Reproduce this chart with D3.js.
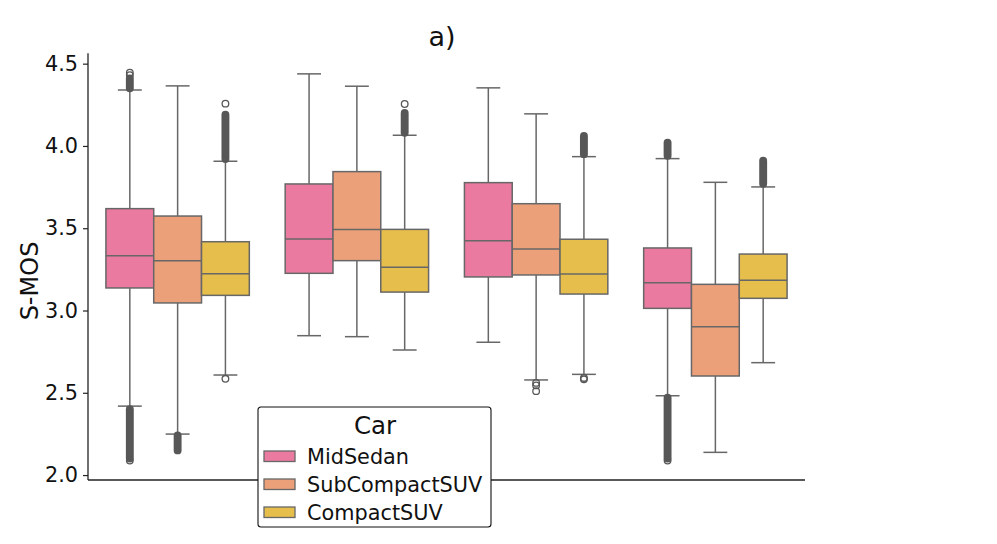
<!DOCTYPE html>
<html>
<head>
<meta charset="utf-8">
<script src="https://cdn.jsdelivr.net/npm/d3@7"></script>
<style>
  body { margin: 0; background: #fff; }
  svg { font-family: "DejaVu Sans", sans-serif; }
</style>
</head>
<body>
<svg id="chart" width="997" height="544"></svg>
<script>
'use strict'

// groups along x (no tick labels in the figure)
const groups = ["g1", "g2", "g3", "g4"]
const cars = ["MidSedan", "SubCompactSUV", "CompactSUV"]
const carColors = ["#eb7aa0", "#eba079", "#e6be4c"]
const yTicks = [2.0, 2.5, 3.0, 3.5, 4.0, 4.5]

// box stats per car, one value per group
const midSedanQ1 = [3.137, 3.226, 3.204, 3.013]
const midSedanMed = [3.333, 3.435, 3.424, 3.169]
const midSedanQ3 = [3.619, 3.769, 3.777, 3.380]
const midSedanLo = [2.419, 2.847, 2.807, 2.482]
const midSedanHi = [4.340, 4.438, 4.353, 3.923]

const subCompactQ1 = [3.046, 3.303, 3.216, 2.602]
const subCompactMed = [3.303, 3.493, 3.374, 2.902]
const subCompactQ3 = [3.574, 3.844, 3.649, 3.159]
const subCompactLo = [2.249, 2.841, 2.578, 2.138]
const subCompactHi = [4.365, 4.363, 4.195, 3.779]

const compactQ1 = [3.092, 3.112, 3.100, 3.074]
const compactMed = [3.224, 3.263, 3.222, 3.184]
const compactQ3 = [3.418, 3.493, 3.433, 3.343]
const compactLo = [2.608, 2.760, 2.612, 2.683]
const compactHi = [3.907, 4.065, 3.935, 3.751]

// dense outlier runs: [group, car, from, to]
const outlierRuns = [
  ["g1", "MidSedan", 2.10, 2.40],
  ["g1", "MidSedan", 4.35, 4.41],
  ["g1", "SubCompactSUV", 2.15, 2.24],
  ["g1", "CompactSUV", 3.92, 4.19],
  ["g2", "CompactSUV", 4.08, 4.20],
  ["g3", "CompactSUV", 3.95, 4.06],
  ["g4", "MidSedan", 2.10, 2.47],
  ["g4", "MidSedan", 3.94, 4.02],
  ["g4", "CompactSUV", 3.77, 3.91]
]
// single outliers: [group, car, value]
const outlierPoints = [
  ["g1", "MidSedan", 2.088], ["g1", "MidSedan", 4.43], ["g1", "MidSedan", 4.445],
  ["g1", "CompactSUV", 4.257], ["g1", "CompactSUV", 2.585],
  ["g2", "CompactSUV", 4.255],
  ["g3", "SubCompactSUV", 2.56], ["g3", "SubCompactSUV", 2.545], ["g3", "SubCompactSUV", 2.51],
  ["g3", "CompactSUV", 2.59], ["g3", "CompactSUV", 2.582],
  ["g4", "MidSedan", 2.088]
]

const stats = {
  MidSedan: [midSedanQ1, midSedanMed, midSedanQ3, midSedanLo, midSedanHi],
  SubCompactSUV: [subCompactQ1, subCompactMed, subCompactQ3, subCompactLo, subCompactHi],
  CompactSUV: [compactQ1, compactMed, compactQ3, compactLo, compactHi]
}
const boxes = []
cars.forEach(car => groups.forEach((g, i) => {
  let s = stats[car]
  boxes.push({group: g, car, q1: s[0][i], med: s[1][i], q3: s[2][i], lo: s[3][i], hi: s[4][i]})
}))

const svg = d3.select("#chart")
const plotLeft = 88, plotRight = 805, plotTop = 53.3, plotBottom = 480
const lineColor = "#676767", fliers = "#575757"

const y = d3.scaleLinear().domain([1.97, 4.563]).range([plotBottom, plotTop])
const x = d3.scaleBand().domain(groups).range([plotLeft, plotRight]).padding(0)
const xInner = d3.scaleBand().domain(cars)
  .range([x.bandwidth() * 0.1, x.bandwidth() * 0.9]).padding(0)
const color = d3.scaleOrdinal().domain(cars).range(carColors)
const cx = (g, c) => x(g) + xInner(c) + xInner.bandwidth() / 2
const bw = xInner.bandwidth()

// whiskers
let plot = svg.append("g")
plot.selectAll(".whisker").data(boxes).join("g").each(function(d){
  let g = d3.select(this), c = cx(d.group, d.car)
  g.append("line").attr("x1", c).attr("x2", c).attr("y1", y(d.q1)).attr("y2", y(d.lo))
  g.append("line").attr("x1", c).attr("x2", c).attr("y1", y(d.q3)).attr("y2", y(d.hi))
  g.append("line").attr("x1", c - bw / 4).attr("x2", c + bw / 4).attr("y1", y(d.lo)).attr("y2", y(d.lo))
  g.append("line").attr("x1", c - bw / 4).attr("x2", c + bw / 4).attr("y1", y(d.hi)).attr("y2", y(d.hi))
}).selectAll("line").attr("stroke", lineColor).attr("stroke-width", 1.5)

// boxes
plot.selectAll(".box").data(boxes).join("rect")
  .attr("x", d => x(d.group) + xInner(d.car))
  .attr("width", bw)
  .attr("y", d => y(d.q3))
  .attr("height", d => y(d.q1) - y(d.q3))
  .attr("fill", d => color(d.car))
  .attr("stroke", lineColor).attr("stroke-width", 1.5)

plot.selectAll(".median").data(boxes).join("line")
  .attr("x1", d => x(d.group) + xInner(d.car))
  .attr("x2", d => x(d.group) + xInner(d.car) + bw)
  .attr("y1", d => y(d.med)).attr("y2", d => y(d.med))
  .attr("stroke", lineColor).attr("stroke-width", 1.5)

// outliers: dense runs drawn as overlapping markers (capsule), singles as rings
const r = 3.3
plot.selectAll(".run").data(outlierRuns).join("line")
  .attr("x1", d => cx(d[0], d[1])).attr("x2", d => cx(d[0], d[1]))
  .attr("y1", d => y(d[2])).attr("y2", d => y(d[3]))
  .attr("stroke", fliers).attr("stroke-width", 2 * r + 1.3)
  .attr("stroke-linecap", "round")

plot.selectAll(".pt").data(outlierPoints).join("circle")
  .attr("cx", d => cx(d[0], d[1])).attr("cy", d => y(d[2]))
  .attr("r", r).attr("fill", "none")
  .attr("stroke", fliers).attr("stroke-width", 1.3)

// axes
let yAxis = svg.append("g").attr("transform", `translate(${plotLeft},0)`)
  .call(d3.axisLeft(y).tickValues(yTicks).tickFormat(d3.format(".1f")).tickSize(5).tickPadding(5))
yAxis.select(".domain").attr("d", `M0,${plotTop}V${plotBottom}`).attr("stroke", "#222").attr("stroke-width", 1.3)
yAxis.selectAll(".tick line").attr("stroke", "#222").attr("stroke-width", 1.2)
yAxis.selectAll("text").attr("font-size", 20.8).attr("fill", "#111")
  .attr("font-family", "DejaVu Sans")

svg.append("line").attr("x1", plotLeft).attr("x2", plotRight).attr("y1", plotBottom).attr("y2", plotBottom)
  .attr("stroke", "#222").attr("stroke-width", 1.3)

svg.append("text").attr("transform", "translate(38,281) rotate(-90)")
  .attr("text-anchor", "middle").attr("font-size", 24).attr("fill", "#111").text("S-MOS")

svg.append("text").attr("x", 442).attr("y", 46)
  .attr("text-anchor", "middle").attr("font-size", 27).attr("fill", "#111").text("a)")

// legend
let legend = svg.append("g").attr("transform", "translate(258,407)")
legend.append("rect").attr("width", 233).attr("height", 120).attr("rx", 3)
  .attr("fill", "#fff").attr("stroke", "#111").attr("stroke-width", 1.1)
legend.append("text").attr("x", 117).attr("y", 26.5).attr("text-anchor", "middle")
  .attr("font-size", 24.5).attr("fill", "#111").text("Car")
let items = legend.selectAll(".item").data(cars).join("g")
  .attr("transform", (d, i) => `translate(6,${44 + i * 28})`)
items.append("rect").attr("width", 31).attr("height", 10.5)
  .attr("fill", d => color(d)).attr("stroke", lineColor).attr("stroke-width", 1.3)
items.append("text").attr("x", 43).attr("y", 12.5).attr("font-size", 20.8).attr("fill", "#111")
  .text(d => d)
</script>
</body>
</html>
